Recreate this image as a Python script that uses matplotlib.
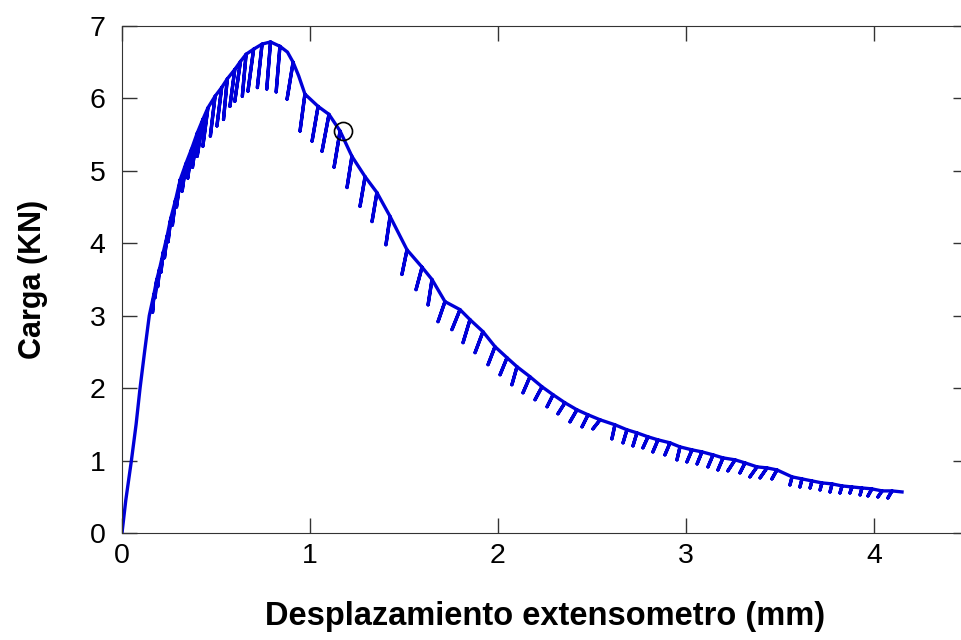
import matplotlib.pyplot as plt

# courbe enveloppe avant les cycles (montee initiale)
env_x=[0.0,0.02,0.05,0.075,0.096,0.12,0.145,0.88,0.94]
env_y=[0.0,0.45,1.0,1.5,2.0,2.5,3.0,6.64,6.31]

# sommets des cycles de decharge (sur l'enveloppe)
top_x=[0.17,0.185,0.20,0.22,0.24,0.26,0.285,0.31,0.34,0.37,0.40,0.43,0.457,0.495,0.53,0.56,0.60,0.63,0.66,0.70,0.745,0.79,0.84,0.91,
       0.973,1.043,1.101,1.160,1.223,1.293,1.356,1.426,1.516,1.596,1.649,
       1.718,1.798,1.851,1.920,1.984,2.048,2.101,2.170,2.234,2.293,2.356,2.420,2.479,
       2.543,2.622,2.686,2.739,2.798,2.851,2.915,2.968,3.032,3.085,3.144,3.197,3.261,3.314,3.378,3.431,3.484,
       3.564,3.617,3.670,3.723,3.777,3.830,3.883,3.936,3.989,4.043,4.096]
top_y=[3.30,3.50,3.65,3.88,4.10,4.35,4.60,4.88,5.10,5.30,5.52,5.71,5.87,6.03,6.15,6.27,6.40,6.51,6.61,6.68,6.75,6.78,6.72,6.50,
       6.06,5.89,5.78,5.55,5.20,4.92,4.70,4.37,3.91,3.67,3.50,
       3.195,3.084,2.946,2.780,2.573,2.420,2.296,2.158,2.019,1.909,1.798,1.701,1.632,
       1.563,1.494,1.425,1.383,1.328,1.286,1.245,1.189,1.148,1.120,1.079,1.037,1.010,0.968,0.913,0.899,0.871,
       0.775,0.747,0.719,0.692,0.678,0.650,0.636,0.622,0.609,0.581,0.581]

# bas des decharges
bot_x=[0.163,0.176,0.19,0.207,0.226,0.245,0.268,0.29,0.32,0.35,0.375,0.40,0.43,0.47,0.505,0.54,0.574,0.60,0.64,0.67,0.72,0.77,0.82,0.878,
       0.947,1.011,1.064,1.128,1.197,1.266,1.330,1.404,1.489,1.564,1.628,
       1.681,1.755,1.814,1.878,1.947,2.011,2.074,2.133,2.197,2.261,2.319,2.383,2.447,
       2.505,2.606,2.665,2.718,2.771,2.824,2.888,2.952,3.005,3.059,3.117,3.170,3.223,3.287,3.340,3.394,3.457,
       3.553,3.606,3.660,3.713,3.766,3.819,3.872,3.926,3.968,4.021,4.074]
bot_y=[3.05,3.25,3.40,3.60,3.80,4.02,4.25,4.50,4.72,4.90,5.05,5.20,5.34,5.48,5.62,5.71,5.89,5.96,6.03,6.10,6.15,6.13,6.09,5.99,
       5.55,5.41,5.27,5.05,4.77,4.51,4.30,3.98,3.57,3.36,3.15,
       2.918,2.808,2.628,2.490,2.324,2.185,2.047,1.936,1.840,1.743,1.646,1.535,1.466,
       1.438,1.300,1.245,1.203,1.176,1.120,1.079,1.010,0.982,0.954,0.913,0.871,0.858,0.830,0.775,0.761,0.747,
       0.664,0.636,0.622,0.595,0.567,0.553,0.553,0.526,0.512,0.498,0.484]

fin_x,fin_y=4.149,0.567
cercle_x,cercle_y=1.176,5.55

# construction du trace : enveloppe + decharge/recharge
pts=[(x,y,None) for x,y in zip(env_x,env_y)]
for i in range(len(top_x)):
    pts.append((top_x[i],top_y[i],i))
pts.sort(key=lambda p:p[0])
X=[]
Y=[]
for x,y,i in pts:
    X.append(x)
    Y.append(y)
    if i is not None:
        X.append(bot_x[i])
        Y.append(bot_y[i])
        X.append(x)
        Y.append(y)
X.append(fin_x)
Y.append(fin_y)

plt.rcParams['font.family']=['Liberation Sans','DejaVu Sans']
fig=plt.figure(figsize=(9.62,6.4),dpi=100)
ax=fig.add_axes([122/962,107/640,846/962,507/640])
ax.plot(X,Y,color='#0000d8',linewidth=2.4,solid_joinstyle='round')
ax.plot([cercle_x],[cercle_y],'o',markersize=13,markerfacecolor='none',markeredgecolor='black',markeredgewidth=1.2)
ax.set_xlim(0,4.5)
ax.set_ylim(0,7)
ax.set_xticks([0,1,2,3,4])
ax.set_yticks([0,1,2,3,4,5,6,7])
ax.tick_params(direction='in',length=11,width=1,top=True,right=True,labelsize=20.5,colors='#333333',labelcolor='black')
ax.tick_params(axis='x',pad=7)
ax.tick_params(axis='y',pad=12)
for s in ax.spines.values():
    s.set_color('#333333')
ax.set_xlabel('Desplazamiento extensometro (mm)',fontsize=23.5,fontweight='bold',labelpad=23)
ax.set_ylabel('Carga (KN)',fontsize=22,fontweight='bold',labelpad=30)
plt.savefig('out.png',dpi=100)
